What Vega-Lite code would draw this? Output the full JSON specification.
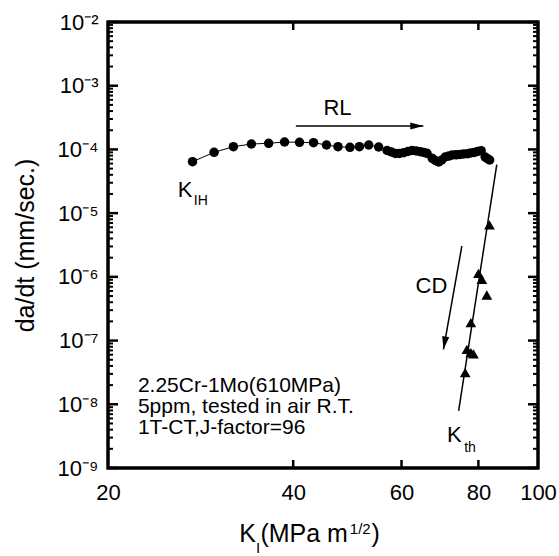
{
  "$schema": "https://vega.github.io/schema/vega-lite/v6.json",
  "width": 430,
  "height": 446,
  "autosize": "none",
  "padding": {"left": 108, "top": 22, "right": 21, "bottom": 88},
  "background": "white",
  "config": {
    "font": "Liberation Sans",
    "view": {"stroke": "black", "strokeWidth": 3},
    "axis": {"domain": false, "ticks": false, "grid": false, "labelColor": "black", "titleColor": "black", "labelOverlap": false, "labelBound": false, "labelFlush": false}
  },
  "layer": [
    {
      "data": {"values": [{"Ka": 20, "Kb": 100, "ra": 1e-9, "rb": 1e-2}]},
      "mark": {"type": "rect", "fill": null, "stroke": "black", "strokeWidth": 3},
      "encoding": {
        "x": {"field": "Ka", "type": "quantitative", "scale": {"type": "log", "domain": [20, 100], "nice": false},
          "axis": {"orient": "bottom", "values": [20, 40, 60, 80, 100], "format": "d", "labelFontSize": 22, "labelPadding": 14, "title": null}},
        "x2": {"field": "Kb"},
        "y": {"field": "ra", "type": "quantitative", "scale": {"type": "log", "domain": [1e-9, 1e-2], "nice": false},
          "axis": {"orient": "left", "values": [1e-9, 1e-8, 1e-7, 1e-6, 1e-5, 1e-4, 1e-3, 1e-2], "labelFontSize": 22, "labelPadding": 10,
            "labelExpr": "'10' + ['⁻⁹','⁻⁸','⁻⁷','⁻⁶','⁻⁵','⁻⁴','⁻³','⁻²'][round(log(datum.value)/LN10) + 9]",
            "title": "da/dt (mm/sec.)", "titleFontSize": 25, "titleFontWeight": "normal", "titleX": -83, "titleY": 223, "titleAngle": -90, "titleAlign": "center", "titleBaseline": "middle"}},
        "y2": {"field": "rb"}
      }
    },
    {
      "data": {"values": [
        {"K": 27.44, "r": 6.42e-5}, {"K": 29.75, "r": 9.01e-5}, {"K": 31.98, "r": 1.104e-4},
        {"K": 34.21, "r": 1.217e-4}, {"K": 36.49, "r": 1.248e-4}, {"K": 38.73, "r": 1.308e-4},
        {"K": 40.96, "r": 1.294e-4}, {"K": 43.16, "r": 1.275e-4}, {"K": 45.31, "r": 1.174e-4},
        {"K": 47.30, "r": 1.104e-4}, {"K": 49.47, "r": 1.080e-4}, {"K": 51.25, "r": 1.104e-4},
        {"K": 53.07, "r": 1.174e-4}, {"K": 55.08, "r": 1.092e-4}, {"K": 56.84, "r": 9.62e-5},
        {"K": 57.76, "r": 9.11e-5}, {"K": 58.63, "r": 8.63e-5}, {"K": 59.51, "r": 8.63e-5},
        {"K": 60.48, "r": 8.89e-5}, {"K": 61.44, "r": 9.28e-5}, {"K": 62.41, "r": 9.62e-5},
        {"K": 63.42, "r": 9.45e-5}, {"K": 64.37, "r": 9.21e-5}, {"K": 65.22, "r": 8.95e-5},
        {"K": 66.00, "r": 8.69e-5}, {"K": 67.32, "r": 7.26e-5}, {"K": 68.08, "r": 6.70e-5},
        {"K": 68.97, "r": 6.35e-5}, {"K": 69.75, "r": 6.82e-5}, {"K": 70.67, "r": 7.61e-5},
        {"K": 71.60, "r": 7.88e-5}, {"K": 72.54, "r": 8.18e-5}, {"K": 73.63, "r": 8.24e-5},
        {"K": 74.74, "r": 8.33e-5}, {"K": 75.72, "r": 8.48e-5}, {"K": 76.86, "r": 8.57e-5},
        {"K": 77.72, "r": 8.79e-5}, {"K": 78.75, "r": 8.95e-5}, {"K": 79.78, "r": 9.28e-5},
        {"K": 80.83, "r": 9.55e-5}, {"K": 82.05, "r": 7.61e-5}, {"K": 82.67, "r": 7.20e-5},
        {"K": 83.44, "r": 6.82e-5}
      ]},
      "layer": [
        {"mark": {"type": "line", "color": "black", "strokeWidth": 1},
         "encoding": {"x": {"field": "K", "type": "quantitative"}, "y": {"field": "r", "type": "quantitative"}}},
        {"mark": {"type": "point", "shape": "circle", "filled": true, "color": "black", "size": 90, "opacity": 1},
         "encoding": {"x": {"field": "K", "type": "quantitative"}, "y": {"field": "r", "type": "quantitative"}}}
      ]
    },
    {
      "data": {"values": [
        {"K": 83.38, "r": 6.52e-6}, {"K": 80.02, "r": 1.137e-6}, {"K": 81.05, "r": 9.15e-7},
        {"K": 82.57, "r": 5.19e-7}, {"K": 77.78, "r": 1.908e-7}, {"K": 76.63, "r": 7.30e-8},
        {"K": 77.78, "r": 6.45e-8}, {"K": 78.54, "r": 6.16e-8}, {"K": 76.15, "r": 3.13e-8}
      ]},
      "mark": {"type": "point", "shape": "triangle-up", "filled": true, "color": "black", "size": 115, "opacity": 1},
      "encoding": {"x": {"field": "K", "type": "quantitative"}, "y": {"field": "r", "type": "quantitative"}}
    },
    {
      "data": {"values": [
        {"name": "RL", "K1": 40.4, "r1": 2.33e-4, "K2": 65.1, "r2": 2.33e-4},
        {"name": "CD", "K1": 75.2, "r1": 3.05e-6, "K2": 70.2, "r2": 7.28e-8},
        {"name": "Kth", "K1": 85.7, "r1": 5.79e-5, "K2": 74.3, "r2": 7.91e-9}
      ]},
      "layer": [
        {"mark": {"type": "rule", "color": "black", "strokeWidth": 1.5},
         "encoding": {"x": {"field": "K1", "type": "quantitative"}, "x2": {"field": "K2"}, "y": {"field": "r1", "type": "quantitative"}, "y2": {"field": "r2"}}},
        {"transform": [{"filter": "datum.name === 'RL'"}],
         "mark": {"type": "point", "shape": "M0,0L-2,-0.55L-2,0.55Z", "filled": true, "color": "black", "size": 169, "opacity": 1, "angle": 0},
         "encoding": {"x": {"field": "K2", "type": "quantitative"}, "y": {"field": "r2", "type": "quantitative"}}},
        {"transform": [{"filter": "datum.name === 'CD'"}],
         "mark": {"type": "point", "shape": "M0,0L-2,-0.55L-2,0.55Z", "filled": true, "color": "black", "size": 169, "opacity": 1, "angle": 100},
         "encoding": {"x": {"field": "K2", "type": "quantitative"}, "y": {"field": "r2", "type": "quantitative"}}}
      ]
    },
    {
      "data": {"values": [
        {"K": 44.80, "r": 3.47e-4, "text": "RL"},
        {"K": 25.97, "r": 1.792e-5, "text": "K"},
        {"K": 63.22, "r": 5.58e-7, "text": "CD"},
        {"K": 71.12, "r": 2.59e-9, "text": "K"}
      ]},
      "mark": {"type": "text", "align": "left", "baseline": "alphabetic", "fontSize": 22, "color": "black"},
      "encoding": {"x": {"field": "K", "type": "quantitative"}, "y": {"field": "r", "type": "quantitative"}, "text": {"field": "text"}}
    },
    {
      "data": {"values": [
        {"K": 27.57, "r": 1.342e-5, "text": "IH"},
        {"K": 75.86, "r": 1.783e-9, "text": "th"}
      ]},
      "mark": {"type": "text", "align": "left", "baseline": "alphabetic", "fontSize": 14, "color": "black"},
      "encoding": {"x": {"field": "K", "type": "quantitative"}, "y": {"field": "r", "type": "quantitative"}, "text": {"field": "text"}}
    },
    {
      "data": {"values": [
        {"K": 22.37, "r": 1.559e-8, "text": "2.25Cr-1Mo(610MPa)"},
        {"K": 22.37, "r": 7.30e-9, "text": "5ppm, tested in air R.T."},
        {"K": 22.37, "r": 3.42e-9, "text": "1T-CT,J-factor=96"}
      ]},
      "mark": {"type": "text", "align": "left", "baseline": "alphabetic", "fontSize": 21, "color": "black"},
      "encoding": {"x": {"field": "K", "type": "quantitative"}, "y": {"field": "r", "type": "quantitative"}, "text": {"field": "text"}}
    },
    {
      "data": {"values": [
        {"K": 32.70, "r": 6.87e-11, "text": "K"},
        {"K": 35.38, "r": 6.87e-11, "text": "(MPa m"},
        {"K": 53.60, "r": 6.87e-11, "text": ")"}
      ]},
      "mark": {"type": "text", "align": "left", "baseline": "alphabetic", "fontSize": 25, "color": "black"},
      "encoding": {"x": {"field": "K", "type": "quantitative"}, "y": {"field": "r", "type": "quantitative"}, "text": {"field": "text"}}
    },
    {
      "data": {"values": [
        {"K": 34.79, "r": 4.6e-11, "text": "I"},
        {"K": 49.45, "r": 9.2e-11, "text": "1/2"}
      ]},
      "mark": {"type": "text", "align": "left", "baseline": "alphabetic", "fontSize": 15, "color": "black"},
      "encoding": {"x": {"field": "K", "type": "quantitative"}, "y": {"field": "r", "type": "quantitative"}, "text": {"field": "text"}}
    },
    {
      "data": {"values": [{"r": 1e-9}, {"r": 1e-8}, {"r": 1e-7}, {"r": 1e-6}, {"r": 1e-5}, {"r": 1e-4}, {"r": 1e-3}, {"r": 1e-2}]},
      "layer": [
        {"mark": {"type": "tick", "orient": "horizontal", "size": 10, "thickness": 2.5, "color": "black", "opacity": 1, "xOffset": 5},
         "encoding": {"x": {"datum": 20, "type": "quantitative"}, "y": {"field": "r", "type": "quantitative"}}},
        {"mark": {"type": "tick", "orient": "horizontal", "size": 10, "thickness": 2.5, "color": "black", "opacity": 1, "xOffset": -5},
         "encoding": {"x": {"datum": 100, "type": "quantitative"}, "y": {"field": "r", "type": "quantitative"}}}
      ]
    },
    {
      "data": {"values": [
        {"r": 2e-9}, {"r": 3e-9}, {"r": 4e-9}, {"r": 5e-9}, {"r": 6e-9}, {"r": 7e-9}, {"r": 8e-9}, {"r": 9e-9},
        {"r": 2e-8}, {"r": 3e-8}, {"r": 4e-8}, {"r": 5e-8}, {"r": 6e-8}, {"r": 7e-8}, {"r": 8e-8}, {"r": 9e-8},
        {"r": 2e-7}, {"r": 3e-7}, {"r": 4e-7}, {"r": 5e-7}, {"r": 6e-7}, {"r": 7e-7}, {"r": 8e-7}, {"r": 9e-7},
        {"r": 2e-6}, {"r": 3e-6}, {"r": 4e-6}, {"r": 5e-6}, {"r": 6e-6}, {"r": 7e-6}, {"r": 8e-6}, {"r": 9e-6},
        {"r": 2e-5}, {"r": 3e-5}, {"r": 4e-5}, {"r": 5e-5}, {"r": 6e-5}, {"r": 7e-5}, {"r": 8e-5}, {"r": 9e-5},
        {"r": 2e-4}, {"r": 3e-4}, {"r": 4e-4}, {"r": 5e-4}, {"r": 6e-4}, {"r": 7e-4}, {"r": 8e-4}, {"r": 9e-4},
        {"r": 2e-3}, {"r": 3e-3}, {"r": 4e-3}, {"r": 5e-3}, {"r": 6e-3}, {"r": 7e-3}, {"r": 8e-3}, {"r": 9e-3}
      ]},
      "layer": [
        {"mark": {"type": "tick", "orient": "horizontal", "size": 5, "thickness": 2, "color": "black", "opacity": 1, "xOffset": 2.5},
         "encoding": {"x": {"datum": 20, "type": "quantitative"}, "y": {"field": "r", "type": "quantitative"}}},
        {"mark": {"type": "tick", "orient": "horizontal", "size": 5, "thickness": 2, "color": "black", "opacity": 1, "xOffset": -2.5},
         "encoding": {"x": {"datum": 100, "type": "quantitative"}, "y": {"field": "r", "type": "quantitative"}}}
      ]
    },
    {
      "data": {"values": [{"K": 40}, {"K": 60}, {"K": 80}]},
      "layer": [
        {"mark": {"type": "tick", "orient": "vertical", "size": 8, "thickness": 2.5, "color": "black", "opacity": 1, "yOffset": -4},
         "encoding": {"x": {"field": "K", "type": "quantitative"}, "y": {"datum": 1e-9, "type": "quantitative"}}},
        {"mark": {"type": "tick", "orient": "vertical", "size": 8, "thickness": 2.5, "color": "black", "opacity": 1, "yOffset": 4},
         "encoding": {"x": {"field": "K", "type": "quantitative"}, "y": {"datum": 1e-2, "type": "quantitative"}}}
      ]
    }
  ]
}
